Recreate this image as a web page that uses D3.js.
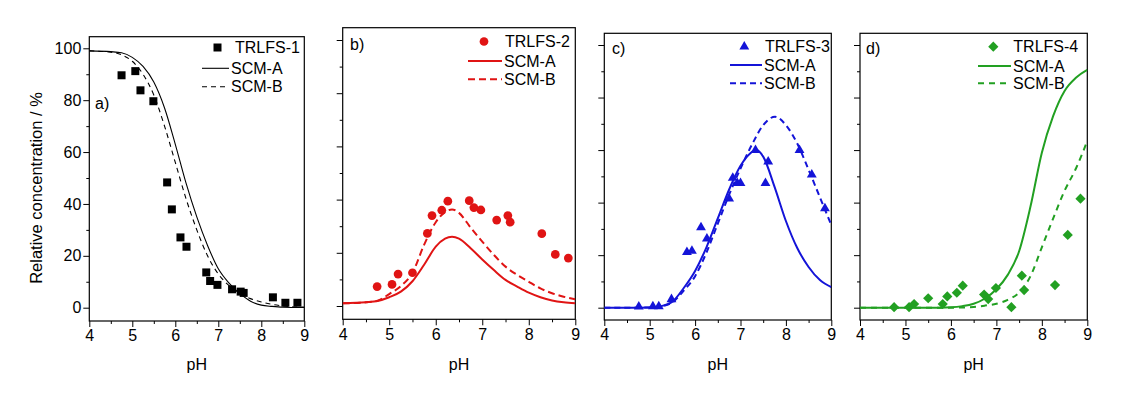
<!DOCTYPE html>
<html>
<head>
<meta charset="utf-8">
<script src="https://cdn.jsdelivr.net/npm/d3@7"></script>
<style>
  body { margin: 0; background: #fff; }
  svg { display: block; font-family: "Liberation Sans", Arial, sans-serif; }
  .tick text { font-size: 16px; fill: #000; }
  .tick line { stroke: #000; }
</style>
</head>
<body>
<div id="chart"></div>
<script>
// ---------------------------------------------------------------------------
// Data
// ---------------------------------------------------------------------------
const xTicks = [4, 5, 6, 7, 8, 9];
const xMinorTicks = [4.5, 5.5, 6.5, 7.5, 8.5];
const yTicks = [0, 20, 40, 60, 80, 100];
const yMinorTicks = [10, 30, 50, 70, 90];

// a) TRLFS-1
const pH1 = [4.75, 5.07, 5.19, 5.49, 5.81, 5.92, 6.12, 6.26, 6.72, 6.81, 6.98, 7.32, 7.52, 7.59, 8.27, 8.56, 8.84];
const trlfs1 = [89.6, 91.2, 83.8, 79.6, 48.3, 37.9, 27.1, 23.5, 13.6, 10.3, 8.8, 7.1, 6.2, 5.7, 4.0, 1.9, 1.9];
const scmPH1 = [4, 4.5, 4.75, 5, 5.25, 5.5, 5.75, 6, 6.25, 6.5, 6.75, 7, 7.25, 7.5, 7.75, 8, 8.25, 8.5, 9];
const scmA1 = [99, 98.7, 98.3, 96.5, 93, 87, 77, 63, 48, 35, 24, 15, 9.5, 5.5, 2.5, 1, 0.5, 0.2, 0.1];
const scmB1 = [99, 98.5, 97.5, 95, 90, 82, 70, 56, 42, 30, 20, 13, 8.5, 5.5, 3.5, 2.2, 1.3, 0.7, 0.2];

// b) TRLFS-2
const pH2 = [4.74, 5.06, 5.19, 5.50, 5.82, 5.92, 6.13, 6.26, 6.72, 6.82, 6.97, 7.31, 7.55, 7.60, 8.28, 8.57, 8.85];
const trlfs2 = [7.3, 8.1, 12.0, 12.5, 27.3, 34.0, 36.0, 39.4, 39.6, 37.0, 36.1, 32.3, 34.0, 31.5, 27.2, 19.4, 18.0];
const scmPH2 = [4, 4.5, 4.75, 5, 5.25, 5.5, 5.75, 6, 6.2, 6.35, 6.5, 6.75, 7, 7.25, 7.5, 7.75, 8, 8.25, 8.5, 8.75, 9];
const scmA2 = [1, 1.4, 1.9, 3.3, 5.4, 9.3, 15.5, 22.3, 25.3, 26, 25.3, 21.7, 17.5, 13.5, 9.8, 7.3, 5, 3.3, 2.1, 1.4, 1];
const scmB2 = [1, 1.4, 2.0, 4.5, 7.5, 12.5, 23, 31.5, 35.3, 36.3, 35, 29.5, 24.2, 19.2, 14.8, 11.7, 9.1, 6.6, 4.8, 3.5, 2.5];

// c) TRLFS-3
const pH3 = [4.76, 5.07, 5.20, 5.48, 5.82, 5.93, 6.13, 6.26, 6.75, 6.83, 6.93, 7.00, 7.33, 7.55, 7.61, 8.30, 8.57, 8.86];
const trlfs3 = [0.4, 0.5, 0.5, 3.2, 21.1, 21.6, 30.6, 26.3, 41.5, 49.4, 47.4, 47.4, 60.0, 47.4, 55.6, 60.0, 50.6, 37.8];
const scmPHA3 = [4, 4.5, 5, 5.25, 5.5, 5.75, 6, 6.25, 6.5, 6.75, 7, 7.2, 7.35, 7.5, 7.75, 8, 8.25, 8.5, 8.75, 9];
const scmA3 = [0, 0, 0.1, 0.6, 2.3, 7.5, 14, 23, 34, 45, 54, 58.5, 60, 57.5, 46, 33, 22.7, 15.5, 10.5, 7.8];
const scmPHB3 = [4, 4.5, 5, 5.25, 5.5, 5.75, 6, 6.25, 6.5, 6.75, 7, 7.25, 7.5, 7.76, 8, 8.25, 8.5, 8.75, 9];
const scmB3 = [0, 0, 0.1, 0.5, 2, 6.5, 12, 21, 32, 43, 53, 62, 69.5, 72.7, 69.5, 62.5, 52.5, 42, 31.5];

// d) TRLFS-4
const pH4 = [4.75, 5.08, 5.19, 5.50, 5.82, 5.92, 6.13, 6.26, 6.73, 6.82, 6.99, 7.33, 7.56, 7.61, 8.29, 8.57, 8.85];
const trlfs4 = [0.2, 0.2, 1.4, 3.6, 1.4, 4.3, 5.7, 8.4, 5.0, 3.3, 7.5, 0.2, 12.2, 6.7, 8.6, 27.7, 41.5];
const scmPHA4 = [4, 5, 5.5, 6, 6.25, 6.5, 6.75, 7, 7.25, 7.5, 7.75, 8, 8.25, 8.5, 8.75, 9];
const scmA4 = [0, 0, 0, 0.2, 0.6, 1.5, 3.5, 7, 12.5, 21.5, 38.5, 59, 73, 82.5, 87.5, 90.5];
const scmPHB4 = [4, 5, 6, 6.5, 6.75, 7, 7.25, 7.5, 7.75, 8, 8.25, 8.5, 8.75, 9];
const scmB4 = [0, 0, 0, 0.3, 0.8, 1.5, 3, 5.8, 12, 23, 34, 44.5, 53, 63.5];

// ---------------------------------------------------------------------------
// Panel layout (frame, y of 0 and 100, legend anchors)
// ---------------------------------------------------------------------------
const panels = [
  { tag: "a)", name: "TRLFS-1", color: "#000", symbol: "square",
    pH: pH1, pts: trlfs1, a: [scmPH1, scmA1], b: [scmPH1, scmB1],
    x0: 89.3, x1: 304.3, top: 36.7, bottom: 321, y0: 307.7, y100: 48.3,
    lw: 1.1, dash: "5,4",
    tagX: 95, tagY: 103, legMark: 217.5, legLine: [202, 229], legText: 231, legTextT: 235, legY: [47.5, 68.3, 86.7] },
  { tag: "b)", name: "TRLFS-2", color: "#e01414", symbol: "circle",
    pH: pH2, pts: trlfs2, a: [scmPH2, scmA2], b: [scmPH2, scmB2],
    x0: 342.7, x1: 575.3, top: 27.7, bottom: 319.3, y0: 306, y100: 40,
    lw: 2, dash: "7,4",
    tagX: 350, tagY: 44, legMark: 484, legLine: [468, 502], legText: 504, legTextT: 505, legY: [41.5, 61, 79.3] },
  { tag: "c)", name: "TRLFS-3", color: "#1414d8", symbol: "triangle",
    pH: pH3, pts: trlfs3, a: [scmPHA3, scmA3], b: [scmPHB3, scmB3],
    x0: 604.3, x1: 831.3, top: 33.3, bottom: 320, y0: 307.7, y100: 45,
    lw: 2, dash: "6,4",
    tagX: 612, tagY: 48, legMark: 744.3, legLine: [730, 762], legText: 764, legTextT: 765, legY: [46.7, 65, 83.3] },
  { tag: "d)", name: "TRLFS-4", color: "#22a022", symbol: "diamond",
    pH: pH4, pts: trlfs4, a: [scmPHA4, scmA4], b: [scmPHB4, scmB4],
    x0: 860, x1: 1087.3, top: 33.3, bottom: 320, y0: 307.7, y100: 45,
    lw: 2, dash: "6,5",
    tagX: 866, tagY: 48, legMark: 993.3, legLine: [978, 1011], legText: 1013, legTextT: 1013.3, legY: [46.7, 66, 83.3] }
];

const width = 1121, height = 396;

const svg = d3.select("#chart")
  .append("svg")
  .attr("width", width)
  .attr("height", height);

function symbolPath(kind) {
  if (kind === "square") return d3.symbol(d3.symbolSquare, 64)();
  if (kind === "circle") return d3.symbol(d3.symbolCircle, 60)();
  if (kind === "triangle") return d3.symbol(d3.symbolTriangle, 42)();
  return d3.symbol(d3.symbolSquare, 52)(); // rotated below -> diamond
}

panels.forEach(p => {
  const xScale = d3.scaleLinear().domain([4, 9]).range([p.x0, p.x1]);
  const yScale = d3.scaleLinear().domain([0, 100]).range([p.y0, p.y100]);

  const g = svg.append("g");

  // clip the curves to the frame
  const clipId = "clip-" + p.tag[0];
  g.append("clipPath").attr("id", clipId)
    .append("rect")
    .attr("x", p.x0).attr("y", p.top)
    .attr("width", p.x1 - p.x0).attr("height", p.bottom - p.top);

  // x axis (major + minor)
  const xAxis = g.append("g")
    .attr("transform", "translate(0," + p.bottom + ")")
    .call(d3.axisBottom(xScale).tickValues(xTicks).tickSize(6).tickSizeOuter(0).tickPadding(3).tickFormat(d3.format("d")));
  xAxis.select(".domain").remove();
  const xMinor = g.append("g")
    .attr("transform", "translate(0," + p.bottom + ")")
    .call(d3.axisBottom(xScale).tickValues(xMinorTicks).tickSize(3).tickSizeOuter(0).tickFormat(""));
  xMinor.select(".domain").remove();

  // y axis (labels only on the first panel)
  const yAxis = g.append("g")
    .attr("transform", "translate(" + p.x0 + ",0)")
    .call(d3.axisLeft(yScale).tickValues(yTicks).tickSize(6).tickSizeOuter(0).tickPadding(2)
      .tickFormat(p.tag === "a)" ? d3.format("d") : ""));
  yAxis.select(".domain").remove();
  const yMinor = g.append("g")
    .attr("transform", "translate(" + p.x0 + ",0)")
    .call(d3.axisLeft(yScale).tickValues(yMinorTicks).tickSize(3).tickSizeOuter(0).tickFormat(""));
  yMinor.select(".domain").remove();

  // frame
  g.append("rect")
    .attr("x", p.x0).attr("y", p.top)
    .attr("width", p.x1 - p.x0).attr("height", p.bottom - p.top)
    .attr("fill", "none").attr("stroke", "#000").attr("stroke-width", 1.2);

  // model curves
  const line = d3.line()
    .x(d => xScale(d[0]))
    .y(d => yScale(d[1]))
    .curve(d3.curveMonotoneX);

  const curves = g.append("g").attr("clip-path", "url(#" + clipId + ")");
  curves.append("path")
    .datum(p.a[0].map((x, i) => [x, p.a[1][i]]))
    .attr("d", line)
    .attr("fill", "none").attr("stroke", p.color).attr("stroke-width", p.lw);
  curves.append("path")
    .datum(p.b[0].map((x, i) => [x, p.b[1][i]]))
    .attr("d", line)
    .attr("fill", "none").attr("stroke", p.color).attr("stroke-width", p.lw)
    .attr("stroke-dasharray", p.dash);

  // TRLFS points
  const rot = p.symbol === "diamond" ? " rotate(45)" : "";
  g.append("g").selectAll("path")
    .data(p.pH.map((x, i) => [x, p.pts[i]]))
    .enter()
    .append("path")
    .attr("d", symbolPath(p.symbol))
    .attr("transform", d => "translate(" + xScale(d[0]) + "," + yScale(d[1]) + ")" + rot)
    .attr("fill", p.color);

  // panel tag
  g.append("text")
    .attr("x", p.tagX).attr("y", p.tagY)
    .attr("dy", "0.35em")
    .style("font-size", "16px")
    .text(p.tag);

  // legend
  g.append("path")
    .attr("d", symbolPath(p.symbol))
    .attr("transform", "translate(" + p.legMark + "," + p.legY[0] + ")" + rot)
    .attr("fill", p.color);
  g.append("text")
    .attr("x", p.legTextT).attr("y", p.legY[0]).attr("dy", "0.35em")
    .style("font-size", "16px").text(p.name);

  g.append("line")
    .attr("x1", p.legLine[0]).attr("x2", p.legLine[1])
    .attr("y1", p.legY[1]).attr("y2", p.legY[1])
    .attr("stroke", p.color).attr("stroke-width", p.lw);
  g.append("text")
    .attr("x", p.legText).attr("y", p.legY[1]).attr("dy", "0.35em")
    .style("font-size", "16px").text("SCM-A");

  g.append("line")
    .attr("x1", p.legLine[0]).attr("x2", p.legLine[1])
    .attr("y1", p.legY[2]).attr("y2", p.legY[2])
    .attr("stroke", p.color).attr("stroke-width", p.lw)
    .attr("stroke-dasharray", p.dash);
  g.append("text")
    .attr("x", p.legText).attr("y", p.legY[2]).attr("dy", "0.35em")
    .style("font-size", "16px").text("SCM-B");

  // x label
  g.append("text")
    .attr("x", (p.x0 + p.x1) / 2).attr("y", 364)
    .attr("dy", "0.35em")
    .attr("text-anchor", "middle")
    .style("font-size", "16px")
    .text("pH");
});

// y label
svg.append("text")
  .attr("transform", "translate(36,188) rotate(-90)")
  .attr("dy", "0.35em")
  .attr("text-anchor", "middle")
  .style("font-size", "16.5px")
  .text("Relative concentration / %");
</script>
</body>
</html>
